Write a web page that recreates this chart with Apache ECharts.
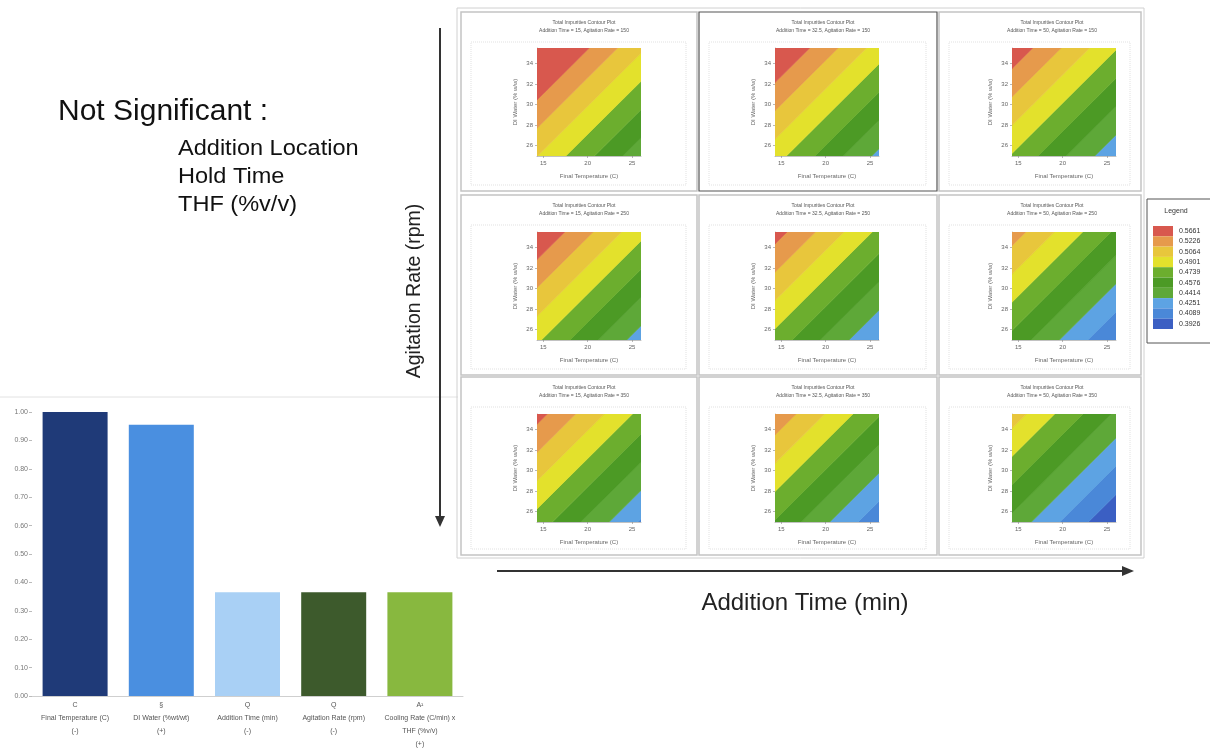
<!DOCTYPE html>
<html>
<head>
<meta charset="utf-8">
<script src="https://cdn.jsdelivr.net/npm/echarts@6/dist/echarts.min.js"></script>
<style>
html, body { margin: 0; padding: 0; background: #fff; }
#chart { width: 1210px; height: 751px; }
</style>
</head>
<body>
<div id="chart"></div>
<script>
// ---------------- data ----------------
// Relative effect of each factor (bar chart)
const barCategories = [
  'Final Temperature (C)\n(-)',
  'DI Water (%wt/wt)\n(+)',
  'Addition Time (min)\n(-)',
  'Agitation Rate (rpm)\n(-)',
  'Cooling Rate (C/min) x\nTHF (%v/v)\n(+)'
];
const barMarks = ['C', '§', 'Q', 'Q', 'A¹'];
const barValues = [1.00, 0.955, 0.365, 0.365, 0.365];

// Factors that were screened out
const notSignificant = ['Addition Location', 'Hold Time', 'THF (%v/v)'];

// Contour panels: columns = addition time, rows = agitation rate
const additionTimes = [15, 32.5, 50];
const agitationRates = [150, 250, 350];
// Total impurities at Final Temperature 20 C, DI Water 30 %w/w, per panel [row][col]
const centreResponse = [
  [0.4910, 0.4810, 0.4730],
  [0.4770, 0.4680, 0.4528],
  [0.4670, 0.4570, 0.4368]
];
// Change in total impurities per unit Final Temperature / DI Water (planar surface)
const slopeTemperature = -0.00508;
const slopeWater = 0.00591;
// Contour levels shown in the legend (low -> high)
const contourLevels = [0.3926, 0.4089, 0.4251, 0.4414, 0.4576, 0.4739, 0.4901, 0.5064, 0.5226, 0.5661];
const temperatureTicks = [15, 20, 25];
const waterTicks = [26, 28, 30, 32, 34];

// ---------------- styles ----------------
const FONT = '"Liberation Sans", Arial, sans-serif';
const barColors = ['#1f3a78', '#4a8fe0', '#a9d0f5', '#3d5a2c', '#88b83f'];
// one colour per band, low -> high
const bandColors = ['#3b5fc3', '#4a88d8', '#5da3e3', '#5ea838', '#4c9a25',
                    '#6cae2e', '#e3e12c', '#e8c63c', '#e69a4c', '#d8584e'];
const tempRange = [14.3, 26];
const waterRange = [25, 35.5];

const panelCols = [
  { x: 461, w: 236, plotLeft: 537, titleX: 584 },
  { x: 699, w: 238, plotLeft: 775, titleX: 823 },
  { x: 939, w: 202, plotLeft: 1012, titleX: 1052 }
];
const panelRows = [
  { y: 12, h: 179, plotTop: 48 },
  { y: 195, h: 180, plotTop: 232 },
  { y: 377, h: 178, plotTop: 414 }
];
const PLOT_W = 104, PLOT_H = 108;

// ---------------- contour geometry ----------------
function clipPoly(poly, g) {
  const out = [];
  for (let i = 0; i < poly.length; i++) {
    const a = poly[i], b = poly[(i + 1) % poly.length];
    const ga = g(a), gb = g(b);
    if (ga >= 0) out.push(a);
    if ((ga >= 0) !== (gb >= 0)) {
      const t = ga / (ga - gb);
      out.push([a[0] + t * (b[0] - a[0]), a[1] + t * (b[1] - a[1])]);
    }
  }
  return out;
}
// region of the plot where lo < impurities <= hi (strip between two straight contours)
function bandPolygon(centre, lo, hi) {
  const f = p => centre + slopeTemperature * (p[0] - 20) + slopeWater * (p[1] - 30);
  let poly = [[tempRange[0], waterRange[0]], [tempRange[1], waterRange[0]],
              [tempRange[1], waterRange[1]], [tempRange[0], waterRange[1]]];
  poly = clipPoly(poly, p => f(p) - lo);
  poly = clipPoly(poly, p => hi - f(p));
  return poly;
}

// one item per colour band: [index, lower bound, upper bound, representative value]
const bandData = contourLevels.map((lvl, i) => {
  const last = contourLevels.length - 1;
  const lo = i === 0 ? 0 : contourLevels[i - 1];
  const hi = i === last ? 1 : lvl;
  const mid = i === 0 ? lvl - 0.008 : (i === last ? contourLevels[i - 1] + 0.01 : (lo + hi) / 2);
  return [i, lo, hi, mid];
});

// ---------------- build option ----------------
const grids = [], xAxes = [], yAxes = [], series = [], graphics = [];

agitationRates.forEach((rate, r) => {
  additionTimes.forEach((time, c) => {
    const k = r * 3 + c;
    const col = panelCols[c], row = panelRows[r];
    grids.push({ left: col.plotLeft, top: row.plotTop, width: PLOT_W, height: PLOT_H });
    xAxes.push({
      gridIndex: k, type: 'value', min: tempRange[0], max: tempRange[1],
      name: 'Final Temperature (C)', nameLocation: 'middle', nameGap: 17,
      nameTextStyle: { fontSize: 6, color: '#666', fontFamily: FONT },
      axisLine: { show: true, lineStyle: { color: '#999', width: 0.6 } },
      axisTick: { show: true, length: 2, customValues: temperatureTicks, lineStyle: { color: '#888', width: 0.6 } },
      axisLabel: { fontSize: 6, color: '#666', margin: 4, fontFamily: FONT, customValues: temperatureTicks },
      splitLine: { show: false }
    });
    yAxes.push({
      gridIndex: k, type: 'value', min: waterRange[0], max: waterRange[1],
      name: 'DI Water (% w/w)', nameLocation: 'middle', nameGap: 19, nameRotate: 90,
      nameTextStyle: { fontSize: 6, color: '#666', fontFamily: FONT },
      axisLine: { show: true, lineStyle: { color: '#999', width: 0.6 } },
      axisTick: { show: true, length: 2, customValues: waterTicks, lineStyle: { color: '#888', width: 0.6 } },
      axisLabel: { fontSize: 6, color: '#666', margin: 4, fontFamily: FONT, customValues: waterTicks },
      splitLine: { show: false }
    });
    const centre = centreResponse[r][c];
    series.push({
      type: 'custom', xAxisIndex: k, yAxisIndex: k, clip: true,
      data: bandData, silent: true,
      renderItem: function (params, api) {
        const poly = bandPolygon(centre, api.value(1), api.value(2));
        if (poly.length < 3) return null;
        const color = api.visual('color');
        return {
          type: 'polygon',
          shape: { points: poly.map(p => api.coord(p)) },
          style: { fill: color, stroke: color, lineWidth: 0.6 }
        };
      }
    });
    // panel frame, inner frame and titles
    const selected = (r === 0 && c === 1);
    graphics.push({
      type: 'rect', silent: true, z: 1,
      shape: { x: col.x, y: row.y, width: col.w, height: row.h },
      style: { fill: 'none', stroke: selected ? '#555' : '#c4c4c4', lineWidth: selected ? 1.2 : 1.5 }
    });
    graphics.push({
      type: 'rect', silent: true, z: 1,
      shape: { x: col.x + 10, y: row.y + 30, width: col.w - 21, height: row.h - 36 },
      style: { fill: 'none', stroke: '#cfcfcf', lineWidth: 0.6, lineDash: [1, 1] }
    });
    graphics.push({
      type: 'text', silent: true, z: 2, x: col.titleX, y: row.y + 11,
      style: { text: 'Total Impurities Contour Plot', fontSize: 5, fill: '#555', fontFamily: FONT, align: 'center', verticalAlign: 'middle' }
    });
    graphics.push({
      type: 'text', silent: true, z: 2, x: col.titleX, y: row.y + 19,
      style: { text: 'Addition Time = ' + time + ', Agitation Rate = ' + rate, fontSize: 5, fill: '#555', fontFamily: FONT, align: 'center', verticalAlign: 'middle' }
    });
  });
});

// bar chart grid
const barGrid = grids.length;
grids.push({ left: 32, top: 412, width: 431, height: 285 });
xAxes.push({
  gridIndex: barGrid, type: 'category', data: barCategories,
  axisLine: { show: true, lineStyle: { color: '#cfcfcf', width: 1 } },
  axisTick: { show: false },
  axisLabel: {
    interval: 0, fontSize: 7, color: '#555', lineHeight: 13, margin: 3, fontFamily: FONT,
    formatter: (v, i) => barMarks[i] + '\n' + v
  }
});
yAxes.push({
  gridIndex: barGrid, type: 'value', min: 0, max: 1, interval: 0.1,
  axisLine: { show: false },
  axisTick: { show: true, length: 3, lineStyle: { color: '#bbb' } },
  axisLabel: { fontSize: 7, color: '#777', margin: 4, fontFamily: FONT, formatter: v => v.toFixed(2) },
  splitLine: { show: false }
});
series.push({
  type: 'bar', xAxisIndex: barGrid, yAxisIndex: barGrid, barWidth: 65, silent: true,
  data: barValues.map((v, i) => ({ value: v, itemStyle: { color: barColors[i] } }))
});

// text and arrows
graphics.push(
  { type: 'line', silent: true, shape: { x1: 0, y1: 397, x2: 458, y2: 397 }, style: { stroke: '#e2e2e2', lineWidth: 1 } },
  { type: 'text', silent: true, x: 58, y: 112, style: { text: 'Not Significant :', fontSize: 30, fill: '#111', fontFamily: FONT, verticalAlign: 'middle' } }
);
notSignificant.forEach((t, i) => {
  graphics.push({ type: 'text', silent: true, x: 178, y: 149 + i * 28, scaleX: 1.07,
    style: { text: t, fontSize: 22, fill: '#111', fontFamily: FONT, verticalAlign: 'middle' } });
});
graphics.push(
  { type: 'text', silent: true, x: 415, y: 291, rotation: Math.PI / 2,
    style: { text: 'Agitation Rate (rpm)', fontSize: 19.5, fill: '#222', fontFamily: FONT, align: 'center', verticalAlign: 'middle' } },
  { type: 'line', silent: true, shape: { x1: 440, y1: 28, x2: 440, y2: 518 }, style: { stroke: '#333', lineWidth: 2 } },
  { type: 'polygon', silent: true, shape: { points: [[435, 516], [445, 516], [440, 527]] }, style: { fill: '#333' } },
  { type: 'line', silent: true, shape: { x1: 497, y1: 571, x2: 1124, y2: 571 }, style: { stroke: '#333', lineWidth: 2 } },
  { type: 'polygon', silent: true, shape: { points: [[1122, 566], [1122, 576], [1134, 571]] }, style: { fill: '#333' } },
  { type: 'text', silent: true, x: 805, y: 603,
    style: { text: 'Addition Time (min)', fontSize: 24, fill: '#222', fontFamily: FONT, align: 'center', verticalAlign: 'middle' } },
  { type: 'rect', silent: true, shape: { x: 457, y: 8, width: 687, height: 550 }, style: { fill: 'none', stroke: '#d0d0d0', lineWidth: 1 } },
  // legend box
  { type: 'rect', silent: true, shape: { x: 1147, y: 199, width: 70, height: 144 }, style: { fill: 'none', stroke: '#555', lineWidth: 1 } },
  { type: 'text', silent: true, x: 1176, y: 211, style: { text: 'Legend', fontSize: 7, fill: '#333', fontFamily: FONT, align: 'center', verticalAlign: 'middle' } }
);

// legend pieces, listed high -> low
const pieces = [];
for (let i = contourLevels.length - 1; i >= 0; i--) {
  const p = { label: contourLevels[i].toFixed(4), color: bandColors[i] };
  if (i > 0) p.gt = contourLevels[i - 1];
  if (i < contourLevels.length - 1) p.lte = contourLevels[i];
  pieces.push(p);
}

const option = {
  backgroundColor: '#fff',
  animation: false,
  grid: grids,
  xAxis: xAxes,
  yAxis: yAxes,
  visualMap: {
    type: 'piecewise', dimension: 3, seriesIndex: [0, 1, 2, 3, 4, 5, 6, 7, 8],
    pieces: pieces, orient: 'vertical', left: 1153, top: 226, align: 'left',
    itemWidth: 20, itemHeight: 10.3, itemGap: 0, itemSymbol: 'rect', textGap: 6, padding: 0,
    textStyle: { fontSize: 7, color: '#333', fontFamily: FONT },
    hoverLink: false, selectedMode: false
  },
  series: series,
  graphic: graphics
};

const chart = echarts.init(document.getElementById('chart'), null, { renderer: 'canvas' });
chart.setOption(option);
</script>
</body>
</html>
